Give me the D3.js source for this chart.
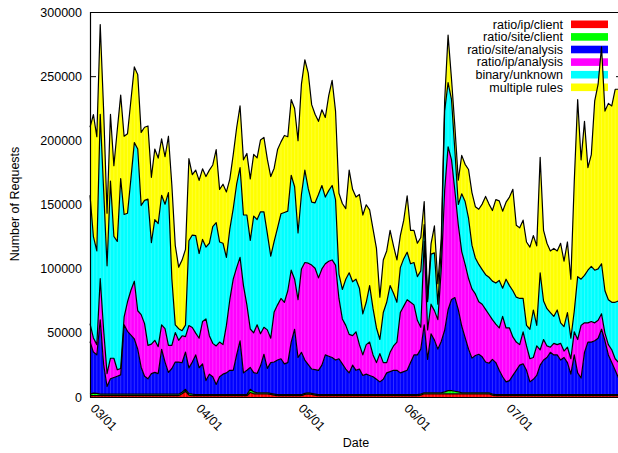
<!DOCTYPE html>
<html>
<head>
<meta charset="utf-8">
<script src="https://cdn.jsdelivr.net/npm/d3@7/dist/d3.min.js"></script>
<style>
  body { margin: 0; background: #fff; }
  svg { display: block; font-family: "Liberation Sans", Arial, sans-serif; }
</style>
</head>
<body>
<div id="chart"></div>
<script>
// daily counts in thousands of requests, first day is 03/01
const startDate = new Date(2012, 2, 1);

const seriesNames = ["ratio/ip/client", "ratio/site/client", "ratio/site/analysis",
  "ratio/ip/analysis", "binary/unknown", "multiple rules"];
const seriesColors = ["#ff0000", "#00ff00", "#0000ff", "#ff00ff", "#00ffff", "#ffff00"];

const ipClient = [
  1, 1, 1, 1, 1, 1, 1, 1, 1, 1,  1, 1, 1, 1, 1, 1, 1, 1, 1, 1,
  1, 1, 1, 1, 1, 1, 1, 2.5, 4.5, 1.5,  1, 1, 1, 1, 1, 1, 1, 1, 1, 1,
  1, 1, 1, 1, 1, 1, 1, 3.5, 2.5, 2.5,  2.5, 2.5, 2.5, 2, 1.5, 1, 1, 1, 1, 1,
  1, 1, 1, 2, 2.5, 2, 1.5, 1, 1, 1,  1, 1, 1, 1, 1, 1, 1, 1, 1, 1,
  1, 1, 1, 1, 1, 1, 1, 1, 1, 1,  1, 1, 1, 1, 1, 1, 1, 1.5, 2.5, 2.5,
  2.5, 2.5, 2.5, 2.5, 2.5, 2.5, 2.5, 2.5, 2.5, 2.5,  2.5, 2.5, 2.5, 2.5, 2.5, 2.5, 2.5, 2.5, 1.5, 1,
  1, 1, 1, 1, 1, 1, 1, 1, 1, 1,  1, 1, 1, 1, 1, 1, 1, 1, 1, 1,
  1, 1, 1, 1, 1, 1, 1, 1, 1, 1,  1, 1, 1, 1, 1, 1
];
const siteClient = [
  1.2, 2, 1.8, 1.2, 1.2, 1.2, 1.2, 1.2, 1.2, 1.2,  1.2, 1.2, 1.2, 1.2, 1.2, 1.2, 1.2, 1.2, 1.2, 1.2,
  1.2, 1.2, 1.2, 1.2, 1.2, 1.2, 1.2, 1.2, 1.5, 1.2,  1.2, 0.8, 0.8, 0.8, 0.8, 0.8, 0.8, 0.8, 0.8, 0.8,
  0.8, 0.8, 0.8, 0.8, 0.8, 0.8, 0.8, 2.5, 1.5, 0.8,  0.8, 0.8, 0.8, 0.8, 0.8, 0.8, 0.8, 0.8, 0.8, 0.8,
  0.8, 0.8, 0.8, 0.8, 0.8, 0.8, 0.8, 0.8, 0.8, 0.8,  0.8, 0.8, 0.8, 0.8, 0.8, 0.8, 0.8, 0.8, 0.8, 0.8,
  0.8, 0.8, 0.8, 0.8, 0.8, 0.8, 0.8, 0.8, 0.8, 0.8,  0.8, 0.8, 0.8, 0.8, 0.8, 0.8, 0.8, 0.8, 0.8, 0.8,
  0.8, 0.8, 0.8, 0.8, 1.5, 2.5, 2.5, 2, 1.5, 0.8,  0.8, 0.8, 0.8, 0.8, 0.8, 0.8, 0.8, 0.8, 0.8, 0.8,
  0.8, 0.8, 0.8, 0.8, 0.8, 0.8, 0.8, 0.8, 0.8, 0.8,  0.8, 0.8, 0.8, 0.8, 0.8, 0.8, 0.8, 0.8, 0.8, 0.8,
  0.8, 0.8, 0.8, 0.8, 0.8, 0.8, 0.8, 0.8, 0.8, 0.8,  0.8, 0.8, 0.8, 0.8, 0.8, 0.8
];
const siteAnalysis = [
  41, 32, 30, 58, 23, 6, 12, 13, 14, 15,  54, 49, 46, 43, 35, 21, 14, 12, 16, 17,
  16, 35, 25, 17, 20, 25, 25, 23, 29, 20,  25, 31, 21, 24, 11, 16, 14, 8, 14, 16,
  17, 19, 19, 31, 42, 17, 19, 17, 15, 15,  21, 30, 19, 24, 25, 27, 28, 24, 25, 41,
  51, 29, 33, 26, 22, 19, 19, 19, 23, 31,  30, 29, 27, 28, 24, 20, 17, 23, 19, 20,
  15, 16, 15, 14, 12, 10, 12, 17, 18, 19,  19, 17, 18, 19, 25, 31, 31, 35, 53, 26,
  46, 41, 34, 40, 48, 63, 71, 73, 64, 52,  43, 34, 27, 29, 30, 28, 24, 23, 27, 25,
  19, 14, 10, 11, 15, 19, 23, 24, 19, 10,  12, 15, 23, 27, 29, 33, 31, 31, 27, 29,
  25, 16, 31, 17, 13, 33, 41, 41, 42, 44,  51, 42, 31, 25, 19, 13
];
const ipAnalysis = [
  14, 11, 8, 32, 27, 10, 16, 15, 5, 5,  6, 23, 35, 45, 30, 41, 41, 26, 23, 25,
  21, 19, 26, 21, 18, 23, 17, 21, 12, 33,  27, 17, 23, 33, 48, 30, 26, 30, 27, 23,
  37, 55, 71, 68, 65, 68, 51, 30, 31, 38,  25, 21, 30, 19, 39, 43, 47, 48, 56, 56,
  39, 45, 65, 76, 79, 81, 79, 72, 75, 71,  74, 76, 74, 47, 35, 34, 30, 23, 30, 19,
  16, 23, 26, 17, 13, 22, 13, 8, 15, 19,  22, 47, 51, 55, 47, 39, 27, 17, 65, 23,
  23, 23, 23, 56, 109, 127, 109, 83, 66, 58,  57, 55, 54, 48, 41, 41, 41, 38, 31, 30,
  33, 47, 42, 41, 30, 22, 16, 25, 19, 18,  17, 23, 12, 16, 9, 4, 9, 8, 13, 5,
  12, 12, 18, 26, 41, 23, 15, 16, 14, 14,  12, 6, 8, 10, 9, 12
];
const binaryUnknown = [
  100, 79, 73, 128, 109, 84, 138, 95, 100, 148,  80, 69, 87, 108, 126, 85, 96, 114, 79, 94,
  96, 101, 97, 119, 52, 6, 9, 4, 9, 66,  72, 76, 66, 64, 56, 72, 91, 96, 78, 79,
  53, 55, 55, 65, 70, 55, 70, 69, 91, 82,  95, 90, 75, 64, 55, 60, 66, 70, 62, 74,
  72, 52, 58, 72, 58, 49, 51, 65, 65, 52,  55, 58, 51, 19, 23, 36, 48, 42, 41, 44,
  32, 33, 44, 36, 27, 11, 39, 47, 52, 41,  31, 35, 37, 37, 30, 33, 34, 44, 13, 22,
  39, 45, 12, 16, 62, 50, 47, 31, 16, 45,  49, 47, 34, 28, 29, 27, 27, 29, 30, 32,
  37, 22, 38, 33, 36, 35, 36, 26, 16, 23,  37, 16, 60, 30, 29, 27, 21, 27, 16, 19,
  27, 16, 16, 49, 36, 37, 41, 43, 41, 40,  39, 33, 35, 37, 44, 48
];
const multipleRules = [
  53, 95, 89, 70, 62, 41, 52, 55, 87, 65,  61, 62, 61, 59, 58, 57, 57, 57, 51, 55,
  51, 44, 37, 44, 73, 62, 48, 55, 59, 64,  47, 51, 57, 55, 55, 57, 48, 57, 41, 46,
  51, 39, 42, 44, 48, 43, 48, 48, 48, 48,  56, 58, 58, 62, 57, 61, 56, 60, 58, 59,
  61, 72, 86, 86, 90, 76, 69, 57, 59, 62,  74, 82, 69, 63, 67, 55, 80, 72, 64, 73,
  77, 76, 59, 62, 62, 33, 41, 40, 43, 37,  33, 25, 30, 44, 26, 25, 26, 26, 18, 2,
  8, 21, 16, 8, 8, 37, 16, 19, 19, 30,  29, 38, 41, 40, 43, 51, 61, 57, 55, 65,
  62, 60, 60, 69, 79, 56, 55, 61, 65, 64,  58, 62, 90, 55, 51, 48, 53, 46, 62, 51,
  55, 46, 101, 138, 93, 120, 80, 87, 132, 144,  169, 140, 153, 153, 166, 165
];

const yTicks = [0, 50000, 100000, 150000, 200000, 250000, 300000];
const xTickLabels = ["03/01", "04/01", "05/01", "06/01", "07/01"];

const width = 618, height = 453;
const plotLeft = 90, plotTop = 12, plotBottom = 397, plotRight = 622;

const svg = d3.select("#chart").append("svg")
  .attr("width", width)
  .attr("height", height);

const series = [ipClient, siteClient, siteAnalysis, ipAnalysis, binaryUnknown, multipleRules];
const keys = seriesNames;

const rows = ipClient.map(function (v, i) {
  let row = { date: d3.timeDay.offset(startDate, i) };
  keys.forEach(function (k, j) { row[k] = series[j][i] * 1000; });
  return row;
});

const x = d3.scaleTime()
  .domain([startDate, d3.timeDay.offset(startDate, 156)])
  .range([plotLeft, plotRight]);

const y = d3.scaleLinear()
  .domain([0, 300000])
  .range([plotBottom, plotTop]);

const stacked = d3.stack().keys(keys)(rows);

// axes go first, the filled curves cover the inner ticks
const parseTick = d3.timeParse("%Y/%m/%d");
const tickDates = xTickLabels.map(function (s) { return parseTick("2012/" + s); });

const yAxis = svg.append("g")
  .attr("transform", "translate(" + plotLeft + ",0)")
  .call(d3.axisLeft(y).tickValues(yTicks).tickSize(-6).tickPadding(8).tickFormat(d3.format("d")));
yAxis.select(".domain").remove();
yAxis.selectAll("text").attr("font-size", 12.5).attr("fill", "#000").attr("font-family", "Liberation Sans, Arial, sans-serif");
yAxis.selectAll("line").attr("stroke", "#000");

const yAxisR = svg.append("g")
  .attr("transform", "translate(" + plotRight + ",0)")
  .call(d3.axisRight(y).tickValues(yTicks).tickSize(-6).tickFormat(""));
yAxisR.select(".domain").remove();
yAxisR.selectAll("line").attr("stroke", "#000");

const xAxis = svg.append("g")
  .attr("transform", "translate(0," + plotBottom + ")")
  .call(d3.axisBottom(x).tickValues(tickDates).tickSize(-6).tickFormat(d3.timeFormat("%m/%d")));
xAxis.select(".domain").remove();
xAxis.selectAll("line").attr("stroke", "#000");
xAxis.selectAll("text")
  .attr("x", -1)
  .attr("y", 0)
  .attr("dy", null)
  .attr("transform", "translate(0,13) rotate(45)")
  .attr("text-anchor", "start")
  .attr("font-size", 12.5)
  .attr("fill", "#000")
  .attr("font-family", "Liberation Sans, Arial, sans-serif");

// key, drawn under the data like gnuplot does here
const legend = svg.append("g");
seriesNames.forEach(function (name, i) {
  let cy = 24.3 + i * 12.6;
  legend.append("text")
    .attr("x", 563)
    .attr("y", cy)
    .attr("dy", "0.35em")
    .attr("text-anchor", "end")
    .attr("font-size", 12.5)
    .text(name);
  legend.append("rect")
    .attr("x", 571)
    .attr("y", cy - 3.8)
    .attr("width", 37)
    .attr("height", 7.6)
    .attr("fill", seriesColors[i]);
});

const area = d3.area()
  .x(function (d) { return x(d.data.date); })
  .y0(function (d) { return y(d[0]); })
  .y1(function (d) { return y(d[1]); });

const topLine = d3.line()
  .x(function (d) { return x(d.data.date); })
  .y(function (d) { return y(d[1]); });

svg.append("g")
  .selectAll("path")
  .data(stacked)
  .enter()
  .append("path")
  .attr("d", area)
  .attr("fill", function (d, i) { return seriesColors[i]; });

// faint seams between the daily trapezoids
const last = stacked[stacked.length - 1];
svg.append("g")
  .selectAll("line")
  .data(last.slice(1))
  .enter()
  .append("line")
  .attr("x1", function (d) { return x(d.data.date); })
  .attr("x2", function (d) { return x(d.data.date); })
  .attr("y1", y(0))
  .attr("y2", function (d) { return y(d[1]) + 1; })
  .attr("stroke", "#fff")
  .attr("stroke-opacity", 0.24)
  .attr("stroke-width", 0.8);

svg.append("g")
  .selectAll("path")
  .data(stacked)
  .enter()
  .append("path")
  .attr("d", topLine)
  .attr("fill", "none")
  .attr("stroke", "#000")
  .attr("stroke-width", 1.2)
  .attr("stroke-linejoin", "round");

// border: left, top, bottom
svg.append("path")
  .attr("d", "M" + (plotLeft + 0.5) + "," + (plotBottom + 0.5) + "V" + (plotTop + 0.5) + "H" + width +
    "M" + plotLeft + "," + (plotBottom + 0.5) + "H" + width)
  .attr("fill", "none")
  .attr("stroke", "#000")
  .attr("stroke-width", 1.2);

svg.append("text")
  .attr("transform", "translate(15,204) rotate(-90)")
  .attr("text-anchor", "middle")
  .attr("dy", "0.35em")
  .attr("font-size", 12.5)
  .text("Number of Requests");

svg.append("text")
  .attr("x", 356)
  .attr("y", 443)
  .attr("dy", "0.35em")
  .attr("text-anchor", "middle")
  .attr("font-size", 12.5)
  .text("Date");
</script>
</body>
</html>
